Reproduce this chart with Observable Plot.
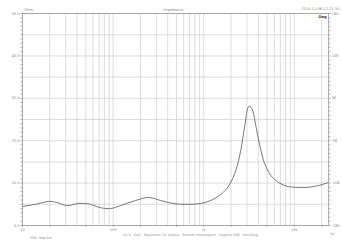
<!DOCTYPE html>
<html><head><meta charset="utf-8">
<script src="https://cdn.jsdelivr.net/npm/d3@7"></script>
<script src="https://cdn.jsdelivr.net/npm/@observablehq/plot@0.6"></script>
<style>body{margin:0;background:#fff}svg{display:block}</style>
</head><body><div id="chart"></div>
<script>
// impedance curve (Hz, Ohm)
const freq = [10,13.9,19.9,24.3,30.6,41.6,53.6,72.6,93.9,121,177,247,335,452,630,925,1195,1540,1890,2260,2560,2840,3140,3390,3750,4150,4700,5500,6730,8450,10900,14100,18200,23500];
const ohm  = [4.5,5.0,5.7,5.4,4.7,5.2,5.1,4.2,4.0,4.7,5.9,6.6,5.9,5.2,5.0,5.2,5.9,7.3,9.4,13.0,17.7,23.6,28.1,27.6,23.6,18.9,14.6,11.8,10.1,9.2,9.0,9.0,9.4,10.1];
const xLabelVals = [10,20,50,100,200,500,1000,2000,5000,10000,20000];
const xLabelText = ["10","20","50","100","200","500","1k","2k","5k","10k","20k"];
const yLeftVals = [0,10,20,30,40,50];
const yRightText = ["-180","-108","-36","36","108","180"];

const data = freq.map((f,i)=>({f, z: ohm[i]}));
const gridXVals = [];
for (const d of [10,100,1000,10000]) for (let k=1;k<10;k++){ const v=d*k; if (v<=23800) gridXVals.push(v); }

const fmtX = v => { const i = xLabelVals.indexOf(v); return i>=0 ? xLabelText[i] : ""; };
const fs = 3.6;
const tc = "#8a8a8a";
const chart = Plot.plot({
  width: 342, height: 246,
  marginLeft: 22, marginRight: 14, marginTop: 13, marginBottom: 21,
  style: {fontFamily: "DejaVu Sans, sans-serif", fontSize: fs + "px", color: tc, background: "#fff"},
  x: {type: "log", domain: [10, 23800]},
  y: {domain: [0, 50]},
  marks: [
    Plot.gridX(gridXVals, {stroke: "#cfcfcf", strokeOpacity: 1, strokeWidth: 0.7}),
    Plot.gridY(d3.range(0, 51, 5), {stroke: "#cfcfcf", strokeOpacity: 1, strokeWidth: 0.7}),
    Plot.frame({stroke: "#999", strokeWidth: 0.8}),
    Plot.axisY(d3.range(0, 51, 1), {anchor: "left", tickSize: 1.5, text: null, label: null, stroke: "#aaa"}),
    Plot.axisY(d3.range(0, 51, 1), {anchor: "right", tickSize: 1.5, text: null, label: null, stroke: "#aaa"}),
    Plot.axisY(yLeftVals, {anchor: "left", tickSize: 0, tickPadding: 3, tickFormat: d => d.toFixed(1), label: null, fontSize: fs, fill: tc}),
    Plot.axisY(yLeftVals, {anchor: "right", tickSize: 0, tickPadding: 3, tickFormat: d => yRightText[yLeftVals.indexOf(d)], label: null, fontSize: fs, fill: tc}),
    Plot.axisX(xLabelVals, {anchor: "bottom", tickSize: 1.5, tickPadding: 1.5, tickFormat: fmtX, label: null, fontSize: fs, fill: tc}),
    Plot.line(data, {x: "f", y: "z", stroke: "#555", strokeWidth: 0.8, curve: "catmull-rom"}),
    Plot.text(["Ohm"], {frameAnchor: "top-left", dx: 2, dy: -5, fontSize: fs, fill: tc}),
    Plot.text(["Impedance"], {frameAnchor: "top", dx: -2, dy: -5, fontSize: fs, fill: tc}),
    Plot.text(["2015-11-06 12:21:55"], {frameAnchor: "top-right", dx: 11, dy: -6, fontSize: fs, fill: tc, textAnchor: "end"}),
    Plot.text(["Deg"], {frameAnchor: "top-right", dx: -2, dy: 2, fontSize: fs, fill: "#333", textAnchor: "end", fontWeight: "bold"}),
    Plot.text(["Hz"], {frameAnchor: "bottom-right", dx: 6, dy: 9, fontSize: fs, fill: tc}),
    Plot.text(["Ch A · Gain · Resolution 1/6 Octave · Smooth Interpolation · Freq(Hz) 0dB · Ohm/Deg"], {frameAnchor: "bottom", dx: 15, dy: 10, fontSize: 3.2, fill: tc}),
    Plot.text(["File: imp.txt"], {frameAnchor: "bottom-left", dx: 8, dy: 13, fontSize: fs, fill: tc})
  ]
});
document.getElementById("chart").append(chart);
</script></body></html>
